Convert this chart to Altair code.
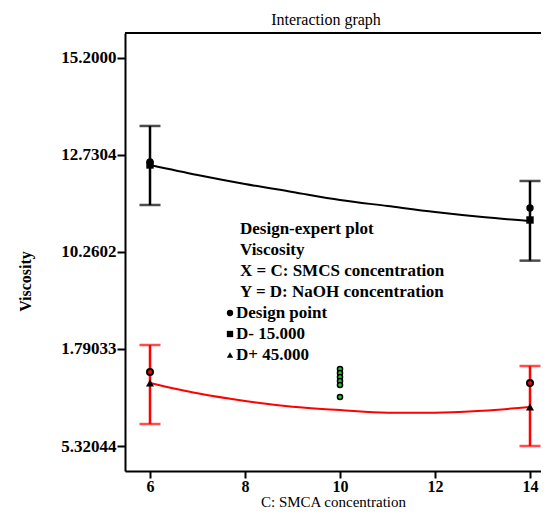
import altair as alt
import pandas as pd

# ---------------- data ----------------
curve_x = [6, 7, 8, 9, 10, 11, 12, 13, 14]
curve_d_minus = [12.476, 12.221, 11.992, 11.788, 11.584, 11.431, 11.279, 11.151, 11.050]  # D- 15.000 (black)
curve_d_plus = [6.925, 6.662, 6.466, 6.321, 6.237, 6.169, 6.169, 6.220, 6.313]  # D+ 45.000 (red)

end_x = [6, 14]
err_black_low = [11.457, 10.040]
err_black_high = [13.469, 12.068]
err_red_low = [5.880, 5.320]
err_red_high = [7.892, 7.357]

design_black = [12.552, 11.380]      # design points, D- level
mean_black = [12.476, 11.075]        # squares
design_red = [7.205, 6.925]          # design points, D+ level
mean_red = [6.925, 6.313]            # triangles

center_x = [10, 10, 10, 10, 10, 10]
center_vals = [7.281, 7.179, 7.077, 6.975, 6.874, 6.568]

y_tick_values = [5.32044, 7.79033, 10.26022, 12.73011, 15.2]
y_tick_labels = ["5.32044", "1.79033", "10.2602", "12.7304", "15.2000"]
x_tick_values = [6, 8, 10, 12, 14]

legend_header = ["Design-expert plot", "Viscosity", "X = C: SMCS concentration", "Y = D: NaOH concentration"]
legend_items = ["Design point", "D- 15.000", "D+ 45.000"]
legend_shapes = ["circle", "square", "triangle-up"]

title_text = "Interaction graph"
x_title = "C: SMCA concentration"
y_title = "Viscosity"

# ---------------- layout ----------------
W, H = 416, 438
PX_PER_UNIT = 47.5
FONT = "Liberation Serif"

label_expr = " : ".join(
    f"abs(datum.value - {v}) < 0.01 ? '{t}'" for v, t in zip(y_tick_values, y_tick_labels)
) + " : ''"

x_lo = 6 - 25 / PX_PER_UNIT
xscale = alt.Scale(domain=[x_lo, x_lo + W / PX_PER_UNIT], nice=False, zero=False)
yscale = alt.Scale(domain=[4.684, 15.836], nice=False, zero=False)

xaxis = alt.Axis(values=x_tick_values, title=x_title, grid=False, labelPadding=0, labelFontSize=16,
                 tickSize=7, titleY=35, titleX=208, titleBaseline="alphabetic",
                 titleFontWeight="normal", titleFontSize=15)
yaxis = alt.Axis(values=y_tick_values, labelExpr=label_expr, title=y_title, grid=False,
                 labelPadding=1, titleX=-95, titleY=248, titleAngle=-90,
                 titleBaseline="alphabetic", titleAlign="center", titleFontWeight="bold", titleFontSize=16)

X = alt.X("x:Q", scale=xscale, axis=xaxis)
Y = alt.Y("y:Q", scale=yscale, axis=yaxis)

curves = pd.DataFrame({
    "x": curve_x * 2,
    "y": curve_d_minus + curve_d_plus,
    "s": ["D-"] * len(curve_x) + ["D+"] * len(curve_x),
})
errs = pd.DataFrame({
    "x": end_x * 2,
    "y": err_black_low + err_red_low,
    "y2": err_black_high + err_red_high,
    "s": ["D-"] * 2 + ["D+"] * 2,
})
caps = pd.DataFrame({
    "x": end_x * 4,
    "y": err_black_low + err_black_high + err_red_low + err_red_high,
    "s": ["D-"] * 4 + ["D+"] * 4,
})
color_scale = alt.Scale(domain=["D-", "D+"], range=["#000000", "#ff0000"])
C = alt.Color("s:N", scale=color_scale, legend=None)

line_layer = alt.Chart(curves).mark_line(strokeWidth=2, interpolate="monotone").encode(
    x=X, y=Y, color=C, detail="s:N")
rule_layer = alt.Chart(errs).mark_rule(strokeWidth=2.5).encode(x=X, y=Y, y2="y2:Q", color=C)
cap_layer = alt.Chart(caps).mark_tick(orient="horizontal", size=21, thickness=2.5).encode(x=X, y=Y, color=C)

pts_black = pd.DataFrame({"x": end_x, "y": design_black})
pts_sq = pd.DataFrame({"x": end_x, "y": mean_black})
pts_red = pd.DataFrame({"x": end_x, "y": design_red})
pts_tri = pd.DataFrame({"x": end_x, "y": mean_red})
pts_center = pd.DataFrame({"x": center_x, "y": center_vals})

black_pts = alt.Chart(pts_black).mark_point(shape="circle", filled=True, size=55, color="black", opacity=1).encode(x=X, y=Y)
sq_pts = alt.Chart(pts_sq).mark_point(shape="square", filled=True, size=55, color="black", opacity=1).encode(x=X, y=Y)
red_pts = alt.Chart(pts_red).mark_point(shape="circle", filled=True, size=36, fill="#ff0000",
                                        stroke="black", strokeWidth=2, opacity=1).encode(x=X, y=Y)
tri_pts = alt.Chart(pts_tri).mark_point(shape="triangle-up", filled=True, size=65, color="black", opacity=1).encode(x=X, y=Y)
center_pts = alt.Chart(pts_center).mark_point(shape="circle", filled=True, size=26, fill="#22cc22",
                                              stroke="black", strokeWidth=1.5, opacity=1).encode(x=X, y=Y)

one = pd.DataFrame({"a": [0]})
top_rule = alt.Chart(one).mark_rule(color="black", strokeWidth=2).encode(
    x=alt.value(0), x2=alt.value(W), y=alt.value(0))

title_layer = alt.Chart(pd.DataFrame({"t": [title_text]})).mark_text(
    align="center", baseline="alphabetic", font=FONT, fontSize=16, color="black"
).encode(text="t:N", x=alt.value(201), y=alt.value(-8))

legend_layers = []
for i, t in enumerate(legend_header):
    legend_layers.append(
        alt.Chart(pd.DataFrame({"t": [t]})).mark_text(
            align="left", baseline="alphabetic", font=FONT, fontSize=17, fontWeight="bold", color="black"
        ).encode(text="t:N", x=alt.value(115), y=alt.value(201 + 21 * i))
    )
for j, (t, shp) in enumerate(zip(legend_items, legend_shapes)):
    k = len(legend_header) + j
    legend_layers.append(
        alt.Chart(pd.DataFrame({"t": [t]})).mark_text(
            align="left", baseline="alphabetic", font=FONT, fontSize=17, fontWeight="bold", color="black"
        ).encode(text="t:N", x=alt.value(111), y=alt.value(201 + 21 * k))
    )
    legend_layers.append(
        alt.Chart(pd.DataFrame({"t": [t]})).mark_point(
            shape=shp, filled=True, size=40, color="black", opacity=1
        ).encode(x=alt.value(105), y=alt.value(196 + 21 * k))
    )

chart = alt.layer(
    top_rule, line_layer, rule_layer, cap_layer, center_pts, red_pts, tri_pts, black_pts, sq_pts,
    title_layer, *legend_layers
).properties(
    width=W, height=H,
    autosize=alt.AutoSizeParams(type="none"),
    padding={"left": 117, "top": 25, "right": 0, "bottom": 38},
).configure(background="white").configure_view(stroke=None).configure_axis(
    domainColor="black", domainWidth=2, tickColor="black", tickWidth=2, tickSize=8,
    labelFont=FONT, labelFontSize=17, labelFontWeight="bold", labelColor="black",
    titleFont=FONT, titleColor="black",
)

chart.save("out.html", embed_options={"renderer": "svg", "actions": False})
